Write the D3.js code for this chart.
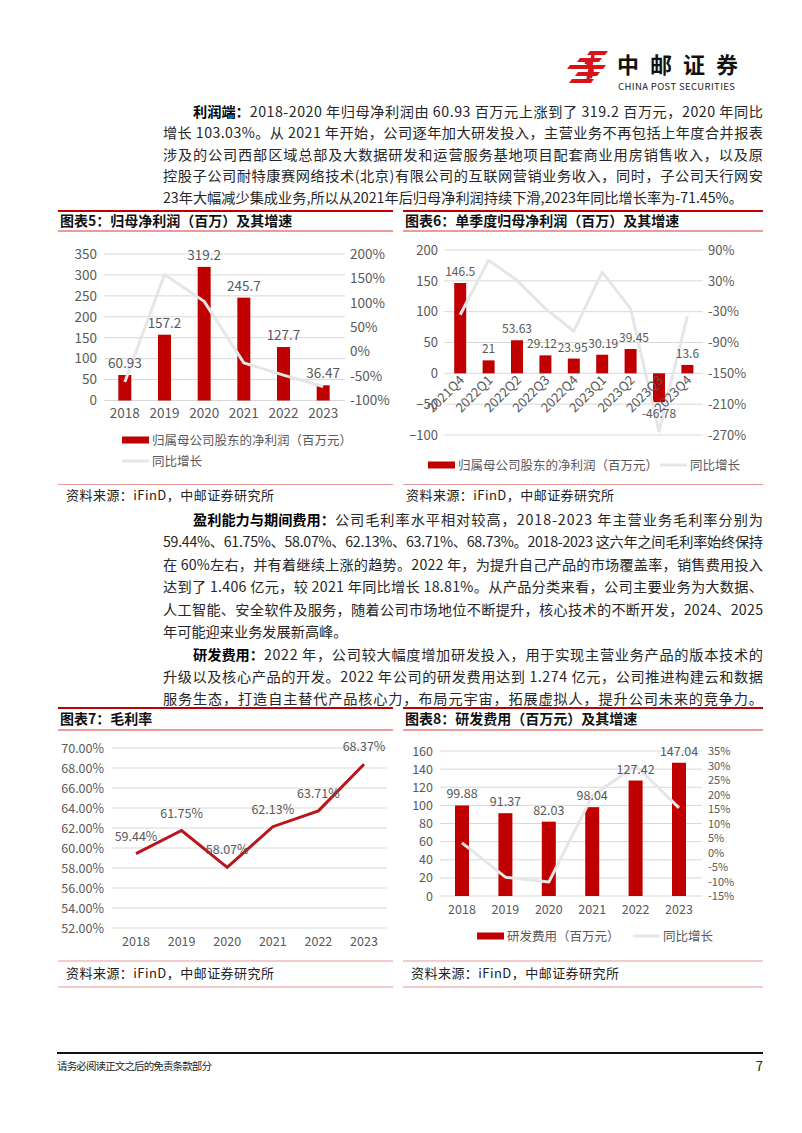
<!DOCTYPE html>
<html><head><meta charset="utf-8">
<script src="https://cdn.jsdelivr.net/npm/d3@7"></script>
<style>
body{margin:0;background:#fff}
svg{display:block}
text{font-family:"Noto Sans CJK SC","Noto Sans",sans-serif}
</style>
</head><body><svg id="page" width="802" height="1133"></svg>
<script>
// ---------- data ----------
const years = ["2018","2019","2020","2021","2022","2023"];
const netProfit = [60.93,157.2,319.2,245.7,127.7,36.47];
const netProfitYoY = [-62,158,103,-23,-48,-71.4];
const ticks5Left = [0,50,100,150,200,250,300,350];
const ticks5Right = [-100,-50,0,50,100,150,200];

const quarters = ["2021Q4","2022Q1","2022Q2","2022Q3","2022Q4","2023Q1","2023Q2","2023Q3","2023Q4"];
const qProfit = [146.5,21,53.63,29.12,23.95,30.19,39.45,-46.78,13.6];
const qYoY = [-36,70,31,-24,-68,47,-24,-263,-38];
const ticks6Left = [-100,-50,0,50,100,150,200];
const ticks6Right = [-270,-210,-150,-90,-30,30,90];

const grossMargin = [59.44,61.75,58.07,62.13,63.71,68.37];
const ticks7 = [52,54,56,58,60,62,64,66,68,70];

const rdExpense = [99.88,91.37,82.03,98.04,127.42,147.04];
const rdYoY = [3.3,-8.5,-10.2,19.5,30.0,15.4];
const ticks8Left = [0,20,40,60,80,100,120,140,160];
const ticks8Right = [-15,-10,-5,0,5,10,15,20,25,30,35];

const para1 = [
  ["利润端：","2018-2020 年归母净利润由 60.93 百万元上涨到了 319.2 百万元，2020 年同比"],
  ["","增长 103.03%。从 2021 年开始，公司逐年加大研发投入，主营业务不再包括上年度合并报表"],
  ["","涉及的公司西部区域总部及大数据研发和运营服务基地项目配套商业用房销售收入，以及原"],
  ["","控股子公司耐特康赛网络技术(北京)有限公司的互联网营销业务收入，同时，子公司天行网安"],
  ["","23年大幅减少集成业务,所以从2021年后归母净利润持续下滑,2023年同比增长率为-71.45%。"]
];
const para2 = [
  ["盈利能力与期间费用：","公司毛利率水平相对较高，2018-2023 年主营业务毛利率分别为"],
  ["","59.44%、61.75%、58.07%、62.13%、63.71%、68.73%。2018-2023 这六年之间毛利率始终保持"],
  ["","在 60%左右，并有着继续上涨的趋势。2022 年，为提升自己产品的市场覆盖率，销售费用投入"],
  ["","达到了 1.406 亿元，较 2021 年同比增长 18.81%。从产品分类来看，公司主要业务为大数据、"],
  ["","人工智能、安全软件及服务，随着公司市场地位不断提升，核心技术的不断开发，2024、2025"],
  ["","年可能迎来业务发展新高峰。"]
];
const para3 = [
  ["研发费用：","2022 年，公司较大幅度增加研发投入，用于实现主营业务产品的版本技术的"],
  ["","升级以及核心产品的开发。2022 年公司的研发费用达到 1.274 亿元，公司推进构建云和数据"],
  ["","服务生态，打造自主替代产品核心力，布局元宇宙，拓展虚拟人，提升公司未来的竞争力。"]
];

// ---------- styles ----------
const RED = "#c00000", LINE_RED = "#b8161c", GRAY_LINE = "#e6e6e6", GRID = "#d9d9d9", AXIS_TXT = "#595959";
const NUM_FONT = "Roboto, 'Liberation Sans', sans-serif";
const svg = d3.select("#page");

// ---------- header logo ----------
const logo = svg.append("g");
const logoBars = [
  [590,51,608,51,605,55,587,55],
  [580,58,602,58,599,62,577,62],
  [570,65,606,65,603,69,567,69],
  [578,72,600,72,597,76,575,76],
  [572,79,594,79,591,83,569,83]
];
logo.selectAll("polygon").data(logoBars).join("polygon")
  .attr("points", d => d3.range(0,8,2).map(i => d[i]+","+d[i+1]).join(" "))
  .attr("fill", "#d7141a");
logo.append("path").attr("d","M593,55 L588,79 M585,62 C592,64 594,70 590,78")
  .attr("stroke","#d7141a").attr("stroke-width",3.5).attr("fill","none");
logo.append("text").attr("x",617).attr("y",73).attr("font-size",22).attr("font-weight",700)
  .attr("fill","#111").attr("textLength",121).text("中邮证券");
logo.append("text").attr("x",618).attr("y",90).attr("font-size",9.5).attr("fill","#222")
  .attr("font-family","Liberation Sans, Arial, sans-serif").attr("textLength",117).text("CHINA POST SECURITIES");

// ---------- paragraphs ----------
const TXT_L = 163, TXT_R = 763, INDENT = 193;
function paragraph(lines, y0, lh) {
  lines.forEach((ln, i) => {
    const y = y0 + i * lh;
    let x = i === 0 ? INDENT : TXT_L;
    if (ln[0]) {
      const b = svg.append("text").attr("x", x).attr("y", y).attr("font-size", 14.2)
        .attr("font-weight", 700).attr("fill", "#000").text(ln[0]);
      x += b.node().getComputedTextLength();
    }
    const t = svg.append("text").attr("x", x).attr("y", y).attr("font-size", 14.2)
      .attr("fill", "#262626").text(ln[1]);
    const last = i === lines.length - 1 && lines.length > 3;
    if (!last) t.attr("textLength", TXT_R - x).attr("lengthAdjust", "spacing");
  });
}
paragraph(para1, 116.5, 21.5);
paragraph(para2, 525, 22.4);
paragraph(para3, 660, 22.1);

// ---------- frames: titles & sources ----------
function titleBox(x0, x1, yTop, yBot, label) {
  svg.append("line").attr("x1",x0).attr("x2",x1).attr("y1",yTop).attr("y2",yTop).attr("stroke","#c00000").attr("stroke-width",2);
  svg.append("line").attr("x1",x0).attr("x2",x1).attr("y1",yBot).attr("y2",yBot).attr("stroke","#d23b3b").attr("stroke-width",1.2);
  svg.append("text").attr("x",x0+2).attr("y",(yTop+yBot)/2+5).attr("font-size",14).attr("font-weight",700)
    .attr("fill","#111").text(label);
}
titleBox(58,393,211,231,"图表5：归母净利润（百万）及其增速");
titleBox(403,763,211,231,"图表6：单季度归母净利润（百万）及其增速");
titleBox(58,393,708,730,"图表7：毛利率");
titleBox(403,763,708,730,"图表8：研发费用（百万元）及其增速");

function hline(x0,x1,y,c){ svg.append("line").attr("x1",x0).attr("x2",x1).attr("y1",y).attr("y2",y).attr("stroke",c).attr("stroke-width",1.2); }
hline(58,393,484.5,"#e99a9a"); hline(403,763,484.5,"#e99a9a");
hline(58,393,961,"#e99a9a"); hline(403,763,961,"#e99a9a");
hline(58,393,987,"#e99a9a"); hline(403,763,987,"#e99a9a");
function source(x,y){ svg.append("text").attr("x",x).attr("y",y).attr("font-size",13).attr("fill","#222")
  .attr("textLength",208).text("资料来源：iFinD，中邮证券研究所"); }
source(66,500); source(406,500); source(66,978); source(411,978);

// ---------- generic combo chart ----------
function combo(o) {
  const fs = o.fs || 12.5;
  const g = svg.append("g");
  const x = d3.scaleBand().domain(o.cats).range([o.x0, o.x1]);
  const yL = d3.scaleLinear().domain(o.domL).range([o.yB, o.yT]);
  g.append("g").selectAll("line").data(o.ticksL).join("line")
    .attr("x1", o.gx0).attr("x2", o.gx1).attr("y1", d => yL(d)).attr("y2", d => yL(d))
    .attr("stroke", GRID).attr("stroke-width", 1);
  const ax = g.append("g").attr("transform", `translate(${o.labL},0)`)
    .call(d3.axisLeft(yL).tickValues(o.ticksL).tickSize(0).tickPadding(0));
  ax.select(".domain").remove();
  ax.selectAll("text").attr("font-size", fs).attr("fill", AXIS_TXT).attr("font-family", NUM_FONT);
  let yR = null;
  if (o.domR) {
    yR = d3.scaleLinear().domain(o.domR).range([o.yB, o.yT]);
    const ar = g.append("g").attr("transform", `translate(${o.labR},0)`)
      .call(d3.axisRight(yR).tickValues(o.ticksR).tickSize(0).tickPadding(0).tickFormat(d => d + "%"));
    ar.select(".domain").remove();
    ar.selectAll("text").attr("font-size", o.fsR || fs).attr("fill", AXIS_TXT).attr("font-family", NUM_FONT);
  }
  const cx = d => x(d) + x.bandwidth() / 2;
  g.append("g").selectAll("rect").data(o.bars).join("rect")
    .attr("x", (d, i) => cx(o.cats[i]) - o.bw / 2).attr("width", o.bw)
    .attr("y", d => yL(Math.max(0, d))).attr("height", d => Math.abs(yL(d) - yL(0)))
    .attr("fill", RED);
  if (o.line) {
    g.append("path").datum(o.line)
      .attr("d", d3.line().x((d, i) => cx(o.cats[i])).y(d => yR(d)))
      .attr("fill", "none").attr("stroke", GRAY_LINE).attr("stroke-width", 3).attr("stroke-linejoin", "round");
  }
  g.append("g").selectAll("text").data(o.bars).join("text")
    .attr("x", (d, i) => cx(o.cats[i]) + (o.lblDx ? o.lblDx[i] : 0))
    .attr("y", d => d >= 0 ? yL(d) - 7 : yL(d) + 16)
    .attr("text-anchor", "middle").attr("font-size", o.fsLbl || fs).attr("fill", AXIS_TXT).attr("font-family", NUM_FONT)
    .text(d => d);
  const xl = g.append("g").selectAll("text").data(o.cats).join("text")
    .attr("font-size", fs).attr("fill", AXIS_TXT).attr("font-family", NUM_FONT);
  if (o.rotate) {
    xl.attr("text-anchor", "end")
      .attr("transform", d => `translate(${cx(d) + 5},${o.xlY}) rotate(-45)`).text(d => d);
  } else {
    xl.attr("x", d => cx(d)).attr("y", o.xlY).attr("text-anchor", "middle").text(d => d);
  }
  return g;
}

function legend(rx, ry, label1, lx, label2, twoRows, fs) {
  svg.append("rect").attr("x", rx).attr("y", ry - 3.5).attr("width", 27).attr("height", 7).attr("fill", RED);
  svg.append("text").attr("x", rx + 30).attr("y", ry + fs * 0.36).attr("font-size", fs).attr("fill", AXIS_TXT).text(label1);
  const ly = twoRows ? ry + 21 : ry;
  svg.append("line").attr("x1", lx).attr("x2", lx + 27).attr("y1", ly).attr("y2", ly)
    .attr("stroke", GRAY_LINE).attr("stroke-width", 3);
  svg.append("text").attr("x", lx + 30).attr("y", ly + fs * 0.36).attr("font-size", fs).attr("fill", AXIS_TXT).text(label2);
}

// Chart 5
combo({cats: years, x0: 105, x1: 343, yB: 400.5, yT: 254, domL: [0, 350], ticksL: ticks5Left,
  gx0: 104, gx1: 345, labL: 97, domR: [-100, 200], ticksR: ticks5Right, labR: 350,
  bars: netProfit, bw: 13, line: netProfitYoY, xlY: 418, fs: 13.5});
legend(122, 440, "归属母公司股东的净利润（百万元）", 122, "同比增长", true, 12.5);

// Chart 6
combo({cats: quarters, x0: 446, x1: 701.6, yB: 435, yT: 250, domL: [-100, 200], ticksL: ticks6Left,
  gx0: 444, gx1: 703, labL: 438, domR: [-270, 90], ticksR: ticks6Right, labR: 708,
  bars: qProfit, bw: 12, line: qYoY, xlY: 381, rotate: true, fs: 13, fsLbl: 12,
  lblDx: [0, 0, 0, -3.4, -1.1, 1.1, 3.4, 0, 0]});
legend(428, 465, "归属母公司股东的净利润（百万元）", 660, "同比增长", false, 12.5);

// Chart 7
(function () {
  const g = svg.append("g");
  const x = d3.scalePoint().domain(years).range([136, 364]);
  const y = d3.scaleLinear().domain([52, 70]).range([928, 748]);
  g.selectAll("line.grid").data(ticks7).join("line").attr("class", "grid")
    .attr("x1", 112).attr("x2", 387).attr("y1", d => y(d)).attr("y2", d => y(d))
    .attr("stroke", GRID).attr("stroke-width", 1);
  const ax = g.append("g").attr("transform", "translate(104,0)")
    .call(d3.axisLeft(y).tickValues(ticks7).tickSize(0).tickPadding(0).tickFormat(d => d.toFixed(2) + "%"));
  ax.select(".domain").remove();
  ax.selectAll("text").attr("font-size", 12.5).attr("fill", AXIS_TXT).attr("font-family", NUM_FONT);
  g.append("path").datum(grossMargin)
    .attr("d", d3.line().x((d, i) => x(years[i])).y(d => y(d)))
    .attr("fill", "none").attr("stroke", LINE_RED).attr("stroke-width", 3).attr("stroke-linejoin", "miter");
  g.selectAll("text.lbl").data(grossMargin).join("text").attr("class", "lbl")
    .attr("x", (d, i) => x(years[i])).attr("y", d => y(d) - 13)
    .attr("text-anchor", "middle").attr("font-size", 12.5).attr("fill", AXIS_TXT).attr("font-family", NUM_FONT)
    .text(d => d.toFixed(2) + "%");
  g.selectAll("text.xl").data(years).join("text").attr("class", "xl")
    .attr("x", d => x(d)).attr("y", 946).attr("text-anchor", "middle")
    .attr("font-size", 12.5).attr("fill", AXIS_TXT).attr("font-family", NUM_FONT).text(d => d);
})();

// Chart 8
combo({cats: years, x0: 440.3, x1: 700.7, yB: 896, yT: 751, domL: [0, 160], ticksL: ticks8Left,
  gx0: 440, gx1: 702, labL: 433, domR: [-15, 35], ticksR: ticks8Right, labR: 708,
  bars: rdExpense, bw: 14, line: rdYoY, xlY: 914, fs: 12.5, fsR: 11});
legend(477, 936, "研发费用（百万元）", 633, "同比增长", false, 12.5);

// ---------- footer ----------
svg.append("line").attr("x1", 57).attr("x2", 763).attr("y1", 1053).attr("y2", 1053).attr("stroke", "#111").attr("stroke-width", 2);
svg.append("text").attr("x", 57).attr("y", 1070).attr("font-size", 10.5).attr("fill", "#222")
  .attr("textLength", 155).text("请务必阅读正文之后的免责条款部分");
svg.append("text").attr("x", 763).attr("y", 1071).attr("text-anchor", "end").attr("font-size", 13).attr("fill", "#222").text("7");
</script>
</body></html>
